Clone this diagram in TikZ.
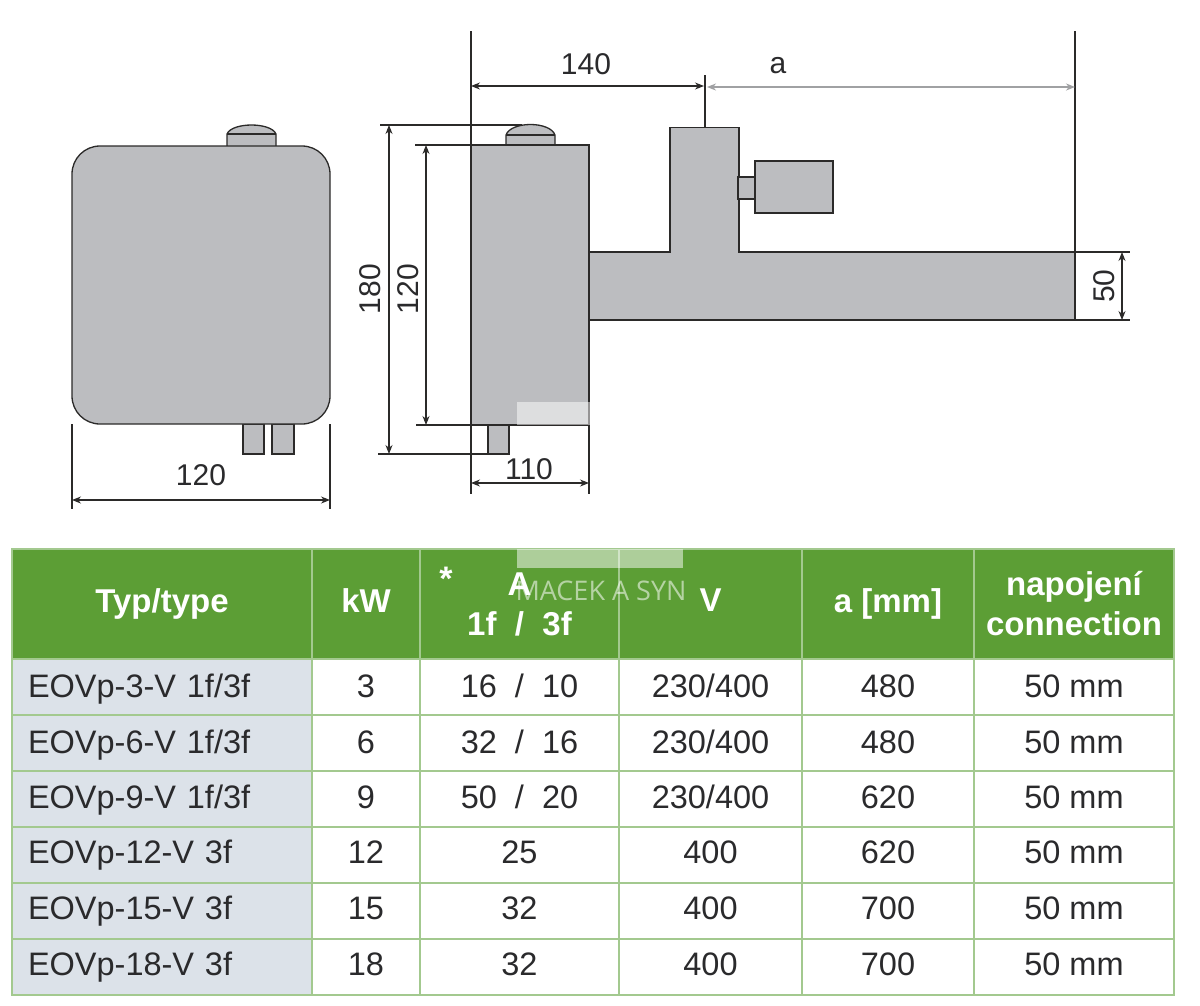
\documentclass[tikz,border=0pt]{standalone}
\usepackage{fontspec}
\setmainfont{Liberation Sans}
\newfontfamily\markfont{Open Sans}
\usetikzlibrary{arrows.meta}
\definecolor{bodygray}{HTML}{BCBDC0}
\definecolor{inkline}{HTML}{2B2A29}
\definecolor{headgreen}{HTML}{5C9E35}
\definecolor{rulegreen}{HTML}{A3C98F}
\definecolor{typeblue}{HTML}{DCE2E9}
\definecolor{inktext}{HTML}{2A2A2C}
\newcommand{\rowdepth}{2pt}
\tikzset{
  part/.style={draw=inkline, fill=bodygray, line width=1.3pt},
  extline/.style={draw=inkline, line width=1.1pt},
  dimline/.style={draw=inkline, line width=1.1pt, {Stealth[length=9pt,width=7pt]}-{Stealth[length=9pt,width=7pt]}},
  dimlabel/.style={text=inktext, font=\fontsize{30}{32}\selectfont, inner sep=0pt},
  cell/.style={draw=rulegreen, line width=1.2pt, inner ysep=0pt, align=center, minimum height=56pt},
  headcell/.style={cell, fill=headgreen, text=white, minimum height=110pt, font=\bfseries\fontsize{33}{40}\selectfont},
  bodycell/.style={cell, text=inktext, text height=23pt, text depth=\rowdepth, font=\fontsize{32.500}{34}\selectfont},
  typecell/.style={cell, fill=typeblue, text=inktext, text height=23pt, text depth=\rowdepth, font=\fontsize{32.500}{34}\selectfont, inner xsep=16pt, text width=268pt, align=left}
}
\begin{document}
\begin{tikzpicture}[x=1pt, y=-1pt]
    \useasboundingbox (0,0) rectangle (1200,1005);

    % front view
    \draw[part] (227,147) -- (227,134) .. controls (232,122) and (271,122) .. (276,134) -- (276,147) -- cycle;
    \draw[part] (227,134) -- (276,134);
    \draw[part] (243,424) rectangle (264,454);
    \draw[part] (272,424) rectangle (294,454);
    \draw[part, rounded corners=28pt] (72,146) rectangle (330,424);
    \coordinate (frontl) at (72,500);
    \coordinate (frontr) at (330,500);
    \coordinate (frontltop) at (72,424);
    \coordinate (frontrtop) at (330,424);
    \coordinate (frontlend) at (72,509);
    \coordinate (frontrend) at (330,509);
    \draw[extline] (frontltop) -- (frontlend);
    \draw[extline] (frontrtop) -- (frontrend);
    \draw[dimline] (frontl) -- (frontr);
    \node[dimlabel] (width120) at (201,475) {120};

    % side view
    \draw[part] (506,146) -- (506,135) .. controls (511,121) and (550,121) .. (555,135) -- (555,146) -- cycle;
    \draw[part] (506,135) -- (555,135);
    \draw[part] (488,425) rectangle (509,454);
    \draw[part] (589,252) -- (670,252) -- (670,127.500) -- (739,127.500) -- (739,252) -- (1075,252) -- (1075,320) -- (589,320) -- cycle;
    \draw[part] (471,145) rectangle (589,425);
    \draw[part] (738,177) rectangle (755,199);
    \draw[part] (755,161) rectangle (833,213);

    \coordinate (lefttop) at (471,31);
    \coordinate (leftbody) at (471,145);
    \coordinate (leftlow) at (471,425);
    \coordinate (leftend) at (471,494);
    \coordinate (rightlow) at (589,425);
    \coordinate (rightend) at (589,494);
    \coordinate (midtop) at (705,75);
    \coordinate (midbody) at (705,127);
    \coordinate (endtop) at (1075,31);
    \coordinate (endbody) at (1075,252);
    \draw[extline] (lefttop) -- (leftbody);
    \draw[extline] (leftlow) -- (leftend);
    \draw[extline] (rightlow) -- (rightend);
    \draw[extline] (midtop) -- (midbody);
    \draw[extline] (endtop) -- (endbody);

    \coordinate (dim140l) at (471,86);
    \coordinate (dim140r) at (704,86);
    \coordinate (dimal) at (707,87);
    \coordinate (dimar) at (1075,87);
    \draw[dimline] (dim140l) -- (dim140r);
    \draw[dimline, draw=bodygray!85!black, line width=1.8pt] (dimal) -- (dimar);
    \node[dimlabel] (len140) at (586,64) {140};
    \node[dimlabel] (lena) at (778,66) {a};

    \coordinate (ext180a) at (380,125);
    \coordinate (ext180b) at (522,125);
    \coordinate (ext180c) at (378,454);
    \coordinate (ext180d) at (488,454);
    \coordinate (ext120a) at (415,145);
    \coordinate (ext120b) at (471,145);
    \coordinate (ext120c) at (416,425);
    \coordinate (ext120d) at (471,425);
    \draw[extline] (ext180a) -- (ext180b);
    \draw[extline] (ext180c) -- (ext180d);
    \draw[extline] (ext120a) -- (ext120b);
    \draw[extline] (ext120c) -- (ext120d);
    \coordinate (dim180t) at (389,125);
    \coordinate (dim180b) at (389,454);
    \coordinate (dim120t) at (426,145);
    \coordinate (dim120b) at (426,425);
    \draw[dimline] (dim180t) -- (dim180b);
    \draw[dimline] (dim120t) -- (dim120b);
    \node[dimlabel, rotate=90] (height180) at (370,289) {180};
    \node[dimlabel, rotate=90] (height120) at (408,289) {120};

    \coordinate (ext50a) at (1075,252);
    \coordinate (ext50b) at (1130,252);
    \coordinate (ext50c) at (1075,320);
    \coordinate (ext50d) at (1130,320);
    \draw[extline] (ext50a) -- (ext50b);
    \draw[extline] (ext50c) -- (ext50d);
    \coordinate (dim50t) at (1122,252);
    \coordinate (dim50b) at (1122,320);
    \draw[dimline] (dim50t) -- (dim50b);
    \node[dimlabel, rotate=90] (pipe50) at (1104,286) {50};

    \coordinate (dim110l) at (471,483);
    \coordinate (dim110r) at (589,483);
    \draw[dimline] (dim110l) -- (dim110r);
    \node[dimlabel] (depth110) at (529,469) {110};

    % table head
    \node[headcell, minimum width=300pt] (headtype) at (162,604) {Typ/type};
    \node[headcell, minimum width=108pt, text depth=7pt] (headkw) at (366,604) {kW};
    \node[headcell, minimum width=199pt] (heada) at (519.500,604) {A\\1f~~/~~3f};
    \node[headcell, minimum width=183pt, text depth=7pt] (headv) at (710.500,604) {V};
    \node[headcell, minimum width=172pt] (headmm) at (888,604) {a [mm]};
    \node[headcell, minimum width=200pt] (headconn) at (1074,604) {napojení\\connection};
    \node[text=white, inner sep=0pt, font=\bfseries\fontsize{34}{36}\selectfont] (headstar) at (446,579) {*};

    % table rows
    \node[typecell] (type1) at (162,687) {EOVp-3-V 1f/3f};
    \node[bodycell, minimum width=108pt] (kw1) at (366,687) {3};
    \node[bodycell, minimum width=199pt] (amp1) at (519.500,687) {16~~/~~10};
    \node[bodycell, minimum width=183pt] (volt1) at (710.500,687) {230/400};
    \node[bodycell, minimum width=172pt] (mm1) at (888,687) {480};
    \node[bodycell, minimum width=200pt] (conn1) at (1074,687) {50 mm};

    \renewcommand{\rowdepth}{3pt}
    \node[typecell] (type2) at (162,743) {EOVp-6-V 1f/3f};
    \node[bodycell, minimum width=108pt] (kw2) at (366,743) {6};
    \node[bodycell, minimum width=199pt] (amp2) at (519.500,743) {32~~/~~16};
    \node[bodycell, minimum width=183pt] (volt2) at (710.500,743) {230/400};
    \node[bodycell, minimum width=172pt] (mm2) at (888,743) {480};
    \node[bodycell, minimum width=200pt] (conn2) at (1074,743) {50 mm};

    \renewcommand{\rowdepth}{4pt}
    \node[typecell] (type3) at (162,799) {EOVp-9-V 1f/3f};
    \node[bodycell, minimum width=108pt] (kw3) at (366,799) {9};
    \node[bodycell, minimum width=199pt] (amp3) at (519.500,799) {50~~/~~20};
    \node[bodycell, minimum width=183pt] (volt3) at (710.500,799) {230/400};
    \node[bodycell, minimum width=172pt] (mm3) at (888,799) {620};
    \node[bodycell, minimum width=200pt] (conn3) at (1074,799) {50 mm};

    \renewcommand{\rowdepth}{6pt}
    \node[typecell] (type4) at (162,855) {EOVp-12-V 3f};
    \node[bodycell, minimum width=108pt] (kw4) at (366,855) {12};
    \node[bodycell, minimum width=199pt] (amp4) at (519.500,855) {25};
    \node[bodycell, minimum width=183pt] (volt4) at (710.500,855) {400};
    \node[bodycell, minimum width=172pt] (mm4) at (888,855) {620};
    \node[bodycell, minimum width=200pt] (conn4) at (1074,855) {50 mm};

    \node[typecell] (type5) at (162,911) {EOVp-15-V 3f};
    \node[bodycell, minimum width=108pt] (kw5) at (366,911) {15};
    \node[bodycell, minimum width=199pt] (amp5) at (519.500,911) {32};
    \node[bodycell, minimum width=183pt] (volt5) at (710.500,911) {400};
    \node[bodycell, minimum width=172pt] (mm5) at (888,911) {700};
    \node[bodycell, minimum width=200pt] (conn5) at (1074,911) {50 mm};

    \node[typecell] (type6) at (162,967) {EOVp-18-V 3f};
    \node[bodycell, minimum width=108pt] (kw6) at (366,967) {18};
    \node[bodycell, minimum width=199pt] (amp6) at (519.500,967) {32};
    \node[bodycell, minimum width=183pt] (volt6) at (710.500,967) {400};
    \node[bodycell, minimum width=172pt] (mm6) at (888,967) {700};
    \node[bodycell, minimum width=200pt] (conn6) at (1074,967) {50 mm};

    % watermark
    \fill[white, opacity=0.5] (517,402) rectangle (590,425);
    \fill[white, opacity=0.5] (517,549) rectangle (683,568);
    \node[text=white, opacity=0.55, inner sep=0pt, font=\markfont\fontsize{27}{29}\selectfont] (watermark) at (601,591) {MACEK A SYN};
\end{tikzpicture}
\end{document}
